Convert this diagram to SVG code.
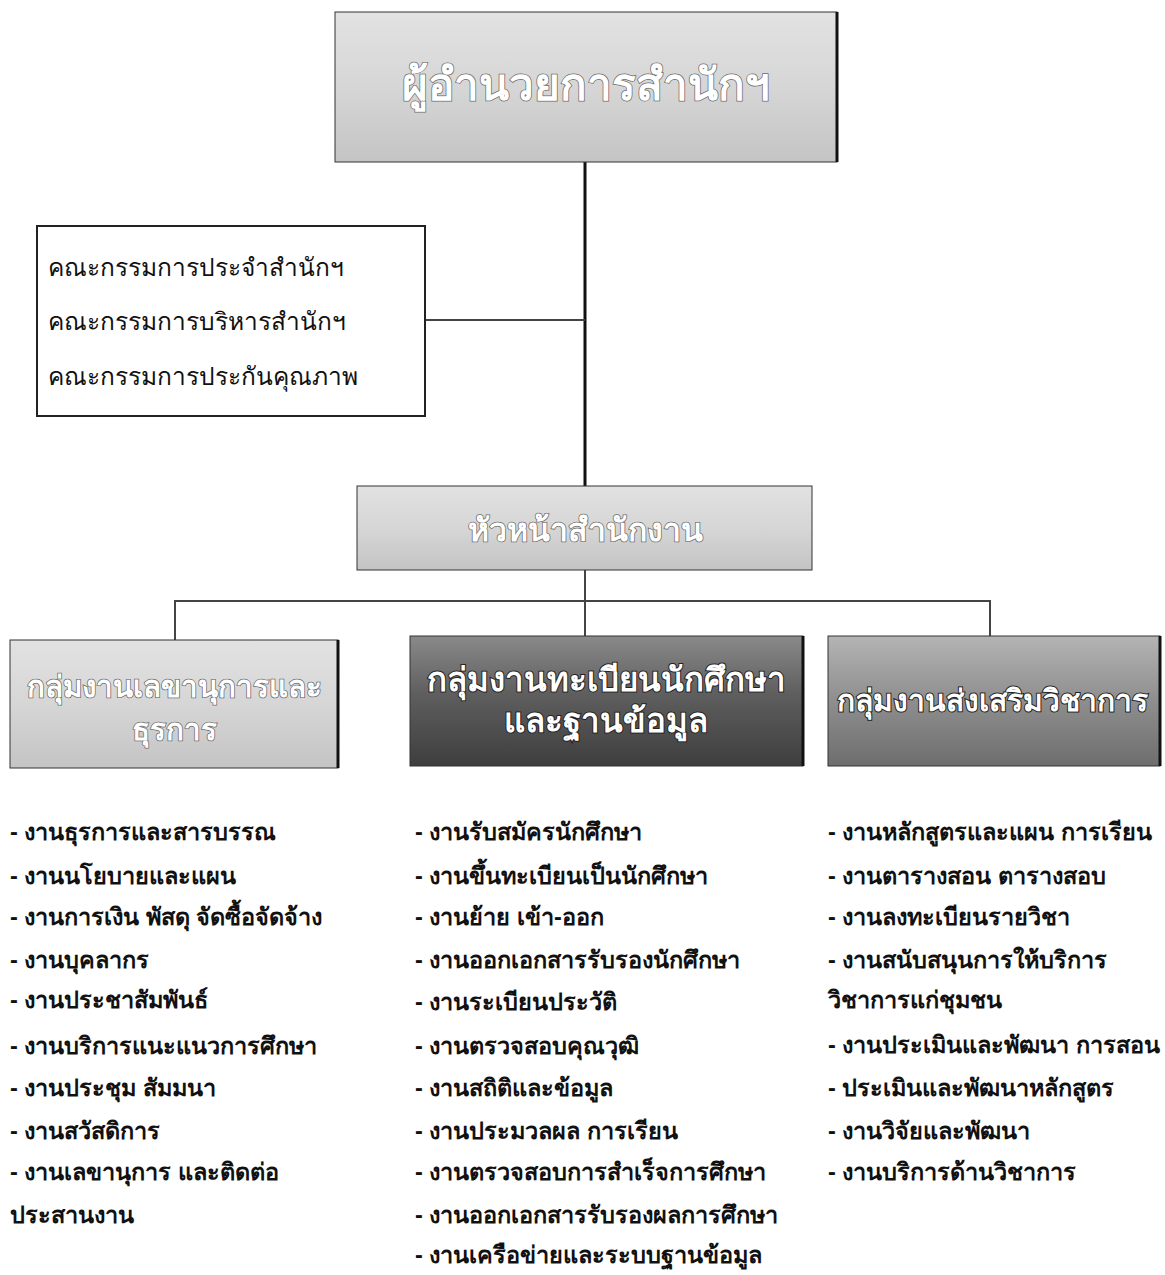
<svg xmlns="http://www.w3.org/2000/svg" width="1165" height="1275" viewBox="0 0 1165 1275">
<defs>
<linearGradient id="gLight" x1="0" y1="0" x2="0" y2="1">
<stop offset="0" stop-color="#e2e2e2"/><stop offset="0.5" stop-color="#d6d6d6"/><stop offset="1" stop-color="#c4c4c4"/>
</linearGradient>
<linearGradient id="gDark" x1="0" y1="0" x2="0" y2="1">
<stop offset="0" stop-color="#8a8a8a"/><stop offset="0.45" stop-color="#5e5e5e"/><stop offset="1" stop-color="#3e3e3e"/>
</linearGradient>
<linearGradient id="gMid" x1="0" y1="0" x2="0" y2="1">
<stop offset="0" stop-color="#b4b4b4"/><stop offset="0.5" stop-color="#8e8e8e"/><stop offset="1" stop-color="#6e6e6e"/>
</linearGradient>
</defs>
<style>
.hd{font-family:"Liberation Sans","Noto Sans",sans-serif;font-weight:bold;fill:#ffffff;stroke:#6a6a6a;stroke-width:1.5;paint-order:stroke;text-anchor:middle}
.hdk{font-family:"Liberation Sans","Noto Sans",sans-serif;font-weight:bold;fill:#ffffff;stroke:#222;stroke-width:2;paint-order:stroke;text-anchor:middle}
.cm{font-family:"Liberation Sans","Noto Sans",sans-serif;font-size:24.5px;fill:#111}
.li{font-family:"Liberation Sans","Noto Sans",sans-serif;font-size:23.5px;font-weight:bold;fill:#111}
.box{stroke:#333;stroke-width:1}
.ln{stroke:#444;stroke-width:2;fill:none}
</style>
<g id="connectors">
<line x1="585" y1="162" x2="585" y2="486" stroke="#111" stroke-width="3"/>
<line class="ln" x1="425" y1="320" x2="585" y2="320"/>
<line class="ln" x1="585" y1="570" x2="585" y2="636"/>
<polyline class="ln" points="175,640 175,601 990,601 990,636"/>
</g>
<g id="director">
<rect class="box" x="335" y="12" width="502" height="150" fill="url(#gLight)"/>
<line x1="837" y1="12" x2="837" y2="162" stroke="#111" stroke-width="3"/>
<text class="hd" x="586" y="100" font-size="44">ผู้อำนวยการสำนักฯ</text>
</g>
<g id="committees">
<rect x="37" y="226" width="388" height="190" fill="#fff" stroke="#222" stroke-width="2"/>
<text class="cm" x="48" y="276">คณะกรรมการประจำสำนักฯ</text>
<text class="cm" x="48" y="330">คณะกรรมการบริหารสำนักฯ</text>
<text class="cm" x="48" y="385">คณะกรรมการประกันคุณภาพ</text>
</g>
<g id="office-head">
<rect class="box" x="357" y="486" width="455" height="84" fill="url(#gLight)"/>
<text class="hd" x="585" y="541" font-size="32">หัวหน้าสำนักงาน</text>
</g>
<g id="admin-group">
<rect class="box" x="10" y="640" width="328" height="128" fill="url(#gLight)"/>
<line x1="338" y1="640" x2="338" y2="768" stroke="#111" stroke-width="3"/>
<text class="hd" x="174" y="697" font-size="29.5">กลุ่มงานเลขานุการและ</text>
<text class="hd" x="174" y="740" font-size="29.5">ธุรการ</text>
</g>
<g id="registration-group">
<rect class="box" x="410" y="636" width="393" height="130" fill="url(#gDark)"/>
<line x1="803" y1="636" x2="803" y2="766" stroke="#111" stroke-width="3"/>
<text class="hdk" x="606" y="691" font-size="33">กลุ่มงานทะเบียนนักศึกษา</text>
<text class="hdk" x="606" y="732" font-size="33">และฐานข้อมูล</text>
</g>
<g id="academic-group">
<rect class="box" x="828" y="636" width="332" height="130" fill="url(#gMid)"/>
<line x1="1160" y1="636" x2="1160" y2="766" stroke="#111" stroke-width="3"/>
<text class="hdk" x="992" y="711" font-size="30">กลุ่มงานส่งเสริมวิชาการ</text>
</g>
<g id="admin-list">
<text class="li" x="10" y="840">- งานธุรการและสารบรรณ</text>
<text class="li" x="10" y="884">- งานนโยบายและแผน</text>
<text class="li" x="10" y="925">- งานการเงิน พัสดุ จัดซื้อจัดจ้าง</text>
<text class="li" x="10" y="968">- งานบุคลากร</text>
<text class="li" x="10" y="1008">- งานประชาสัมพันธ์</text>
<text class="li" x="10" y="1054">- งานบริการแนะแนวการศึกษา</text>
<text class="li" x="10" y="1096">- งานประชุม สัมมนา</text>
<text class="li" x="10" y="1139">- งานสวัสดิการ</text>
<text class="li" x="10" y="1180">- งานเลขานุการ และติดต่อ</text>
<text class="li" x="10" y="1223">ประสานงาน</text>
</g>
<g id="registration-list">
<text class="li" x="415" y="840">- งานรับสมัครนักศึกษา</text>
<text class="li" x="415" y="884">- งานขึ้นทะเบียนเป็นนักศึกษา</text>
<text class="li" x="415" y="925">- งานย้าย เข้า-ออก</text>
<text class="li" x="415" y="968">- งานออกเอกสารรับรองนักศึกษา</text>
<text class="li" x="415" y="1010">- งานระเบียนประวัติ</text>
<text class="li" x="415" y="1054">- งานตรวจสอบคุณวุฒิ</text>
<text class="li" x="415" y="1096">- งานสถิติและข้อมูล</text>
<text class="li" x="415" y="1139">- งานประมวลผล การเรียน</text>
<text class="li" x="415" y="1180">- งานตรวจสอบการสำเร็จการศึกษา</text>
<text class="li" x="415" y="1223">- งานออกเอกสารรับรองผลการศึกษา</text>
<text class="li" x="415" y="1263">- งานเครือข่ายและระบบฐานข้อมูล</text>
</g>
<g id="academic-list">
<text class="li" x="828" y="840">- งานหลักสูตรและแผน การเรียน</text>
<text class="li" x="828" y="884">- งานตารางสอน ตารางสอบ</text>
<text class="li" x="828" y="925">- งานลงทะเบียนรายวิชา</text>
<text class="li" x="828" y="968">- งานสนับสนุนการให้บริการ</text>
<text class="li" x="828" y="1008">วิชาการแก่ชุมชน</text>
<text class="li" x="828" y="1053">- งานประเมินและพัฒนา การสอน</text>
<text class="li" x="828" y="1096">- ประเมินและพัฒนาหลักสูตร</text>
<text class="li" x="828" y="1139">- งานวิจัยและพัฒนา</text>
<text class="li" x="828" y="1180">- งานบริการด้านวิชาการ</text>
</g>
</svg>
